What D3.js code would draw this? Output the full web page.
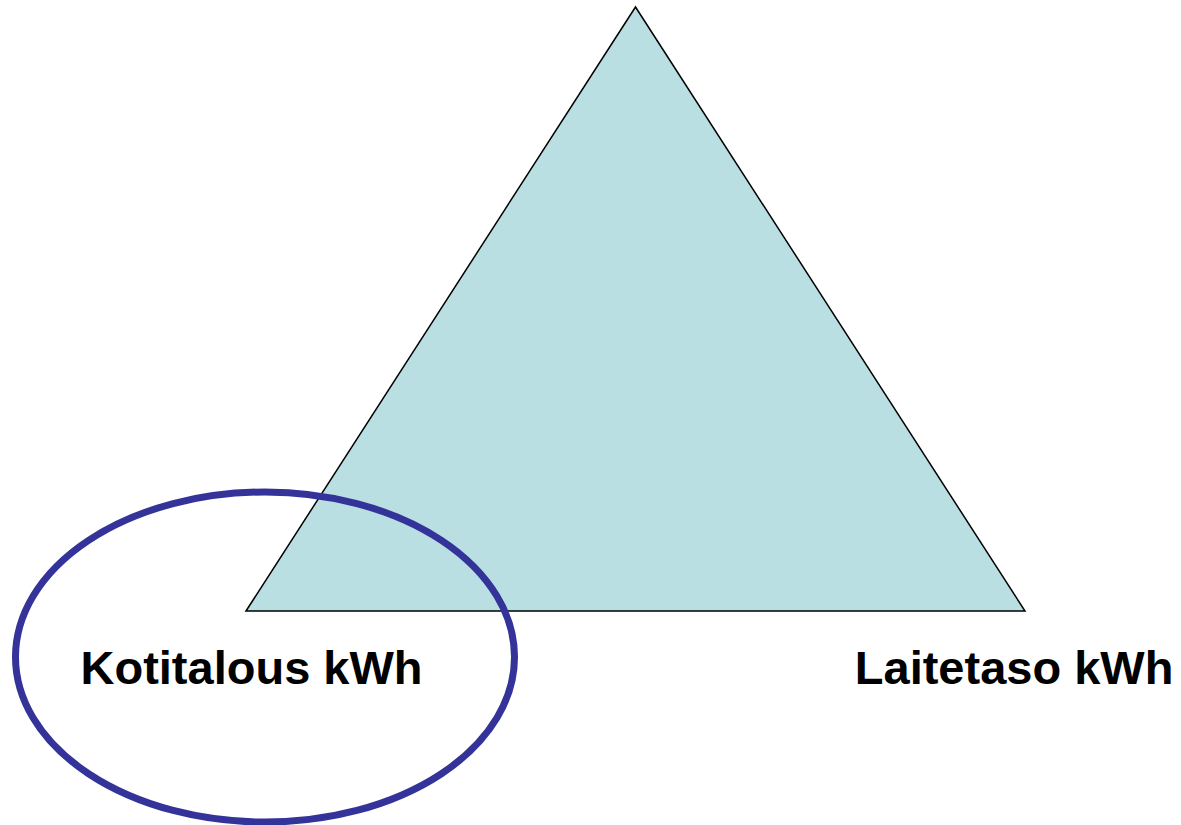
<!DOCTYPE html>
<html><head><meta charset="utf-8">
<script src="https://cdn.jsdelivr.net/npm/d3@7"></script>
<style>body{margin:0;background:#fff}svg{display:block}</style>
</head><body>
<svg id="chart" width="1181" height="825"></svg>
<script>
// Diagram data in abstract units (triangle base 0..1, height 0..1)
const triangleVertices = [[0, 0], [0.5, 1], [1, 0]];
const ellipseCenter = [0.0244, -0.0762];
const ellipseRadii = [0.3203, 0.2732];
const labels = ["Kotitalous kWh", "Laitetaso kWh"];
const labelPositions = [[0.0071, -0.121], [0.986, -0.121]];

const svg = d3.select("#chart");
const x = d3.scaleLinear().domain([0, 1]).range([246, 1025]);
const y = d3.scaleLinear().domain([0, 1]).range([611, 7]);

svg.append("path")
  .datum(triangleVertices)
  .attr("d", d3.line().x(d => x(d[0])).y(d => y(d[1])).curve(d3.curveLinearClosed))
  .attr("fill", "#B9DFE3")
  .attr("stroke", "#000")
  .attr("stroke-width", 1.5)
  .attr("stroke-linejoin", "miter");

svg.append("ellipse")
  .attr("cx", x(ellipseCenter[0]))
  .attr("cy", y(ellipseCenter[1]))
  .attr("rx", x(ellipseRadii[0]) - x(0))
  .attr("ry", y(0) - y(ellipseRadii[1]))
  .attr("fill", "none")
  .attr("stroke", "#333399")
  .attr("stroke-width", 7);

svg.selectAll("text.lbl")
  .data(labels)
  .enter().append("text")
  .attr("class", "lbl")
  .attr("x", (d, i) => x(labelPositions[i][0]))
  .attr("y", (d, i) => y(labelPositions[i][1]))
  .attr("text-anchor", "middle")
  .attr("font-family", "Liberation Sans, Arial, sans-serif")
  .attr("font-weight", "bold")
  .attr("font-size", 47)
  .attr("fill", "#000")
  .text(d => d);
</script>
</body></html>
